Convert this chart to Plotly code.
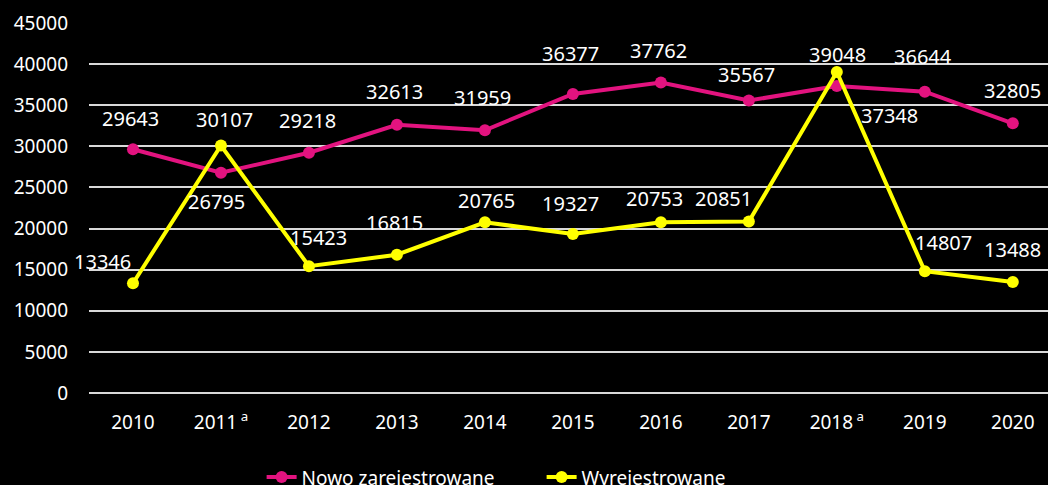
import plotly.graph_objects as go

years = ["2010", "2011", "2012", "2013", "2014", "2015", "2016", "2017", "2018", "2019", "2020"]
tick_text = ["2010", "2011<sup> a</sup>", "2012", "2013", "2014", "2015", "2016", "2017",
             "2018<sup> a</sup>", "2019", "2020"]
nowo = [29643, 26795, 29218, 32613, 31959, 36377, 37762, 35567, 37348, 36644, 32805]
wyrej = [13346, 30107, 15423, 16815, 20765, 19327, 20753, 20851, 39048, 14807, 13488]

# label offsets (px) relative to each point: (xshift, yshift)
nowo_off = [(-2, 31), (-4, -29), (-1, 32), (-2, 33), (-2, 33), (-2, 40), (-2, 32), (-2, 26),
            (53, -30), (-2, 35), (0, 33)]
wyrej_off = [(-30, 22), (4, 26), (10, 29), (-2, 32), (2, 22), (-2, 31), (-6, 24),
             (-25, 23), (1, 17), (19, 29), (0, 33)]

PINK = "#E2137F"
YELLOW = "#FFFF00"
FONT = "Noto Sans"

fig = go.Figure()
fig.add_trace(go.Scatter(x=list(range(len(years))), y=nowo, mode="lines+markers",
                         name="Nowo zarejestrowane",
                         line=dict(color=PINK, width=4), marker=dict(size=12, color=PINK)))
fig.add_trace(go.Scatter(x=list(range(len(years))), y=wyrej, mode="lines+markers",
                         name="Wyrejestrowane",
                         line=dict(color=YELLOW, width=4), marker=dict(size=12, color=YELLOW)))

for series, offs in ((nowo, nowo_off), (wyrej, wyrej_off)):
    for i, (v, (dx, dy)) in enumerate(zip(series, offs)):
        fig.add_annotation(x=i, y=v, xref="x", yref="y", text=str(v), showarrow=False,
                           xshift=dx, yshift=dy,
                           font=dict(family=FONT, size=20, color="white"))

fig.update_layout(
    width=1048, height=485,
    paper_bgcolor="black", plot_bgcolor="black",
    margin=dict(l=89, r=0, t=23, b=92, autoexpand=False),
    font=dict(family=FONT, color="white", size=19),
    showlegend=True,
    legend=dict(orientation="h", x=0.18, xanchor="left",
                yref="container", y=0.016, yanchor="middle",
                entrywidth=235, entrywidthmode="pixels",
                font=dict(family=FONT, size=19, color="white"),
                bgcolor="rgba(0,0,0,0)"),
    xaxis=dict(range=[-0.5, 10.4], tickmode="array", tickvals=list(range(len(years))),
               ticktext=tick_text, showgrid=False, zeroline=False, showline=False, ticks="",
               ticklabelstandoff=16,
               tickfont=dict(family=FONT, size=19, color="white")),
    yaxis=dict(range=[0, 45000], dtick=5000, tickformat="d", showgrid=True,
               gridcolor="#D9D9D9", gridwidth=1.5, zeroline=True, zerolinecolor="#D9D9D9",
               zerolinewidth=1.5, showline=False, ticks="", ticklabelstandoff=20,
               tickfont=dict(family=FONT, size=19, color="white")),
)

fig.write_html("out.html", config={"displayModeBar": False},
               post_script="document.body.style.margin='0';document.body.style.overflow='hidden';")
